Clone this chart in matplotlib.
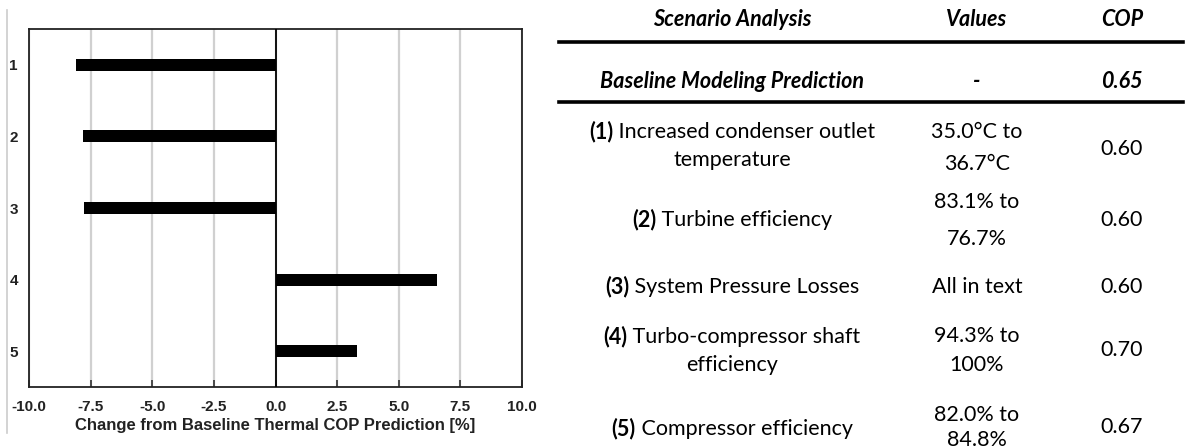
import matplotlib
matplotlib.use("Agg")
import matplotlib.pyplot as plt
from matplotlib.lines import Line2D

# sensitivity results: change of thermal COP against the baseline model
scenario_ids = [1, 2, 3, 4, 5]
cop_change_pct = [-8.1, -7.8, -7.75, 6.55, 3.3]

# summary table next to the chart
header = ["Scenario Analysis", "Values", "COP"]
baseline_label = "Baseline Modeling Prediction"
baseline_value = "-"
baseline_cop = "0.65"
scenario_tags = ["(1)", "(2)", "(3)", "(4)", "(5)"]
scenario_names = [
    ["Increased condenser outlet", "temperature"],
    ["Turbine efficiency"],
    ["System Pressure Losses"],
    ["Turbo-compressor shaft", "efficiency"],
    ["Compressor efficiency"],
]
scenario_values = [
    ["35.0°C to", "36.7°C"],
    ["83.1% to", "76.7%"],
    ["All in text"],
    ["94.3% to", "100%"],
    ["82.0% to", "84.8%"],
]
scenario_cops = ["0.60", "0.60", "0.60", "0.70", "0.67"]

W, H = 1186, 448
fig = plt.figure(figsize=(W / 100, H / 100), dpi=100)
fig.patch.set_facecolor("white")

chart_font = "Liberation Sans"
table_font = "Lato"


def px(x, y):
    """pixel position (from top-left) -> figure fraction"""
    return x / W, 1 - y / H


# ---- bar chart ----
left, top, right, bottom = 29, 29, 522, 387
ax = fig.add_axes([left / W, 1 - bottom / H, (right - left) / W, (bottom - top) / H])
ax.barh(scenario_ids, cop_change_pct, height=0.17, color="black", zorder=3)
ax.axvline(0, color="black", lw=1.3, zorder=4)
ax.set_xlim(-10, 10)
ax.set_ylim(5.5, 0.5)
ax.set_xticks([-10, -7.5, -5, -2.5, 0, 2.5, 5, 7.5, 10])
ax.set_xticklabels([f"{v:.1f}" for v in ax.get_xticks()],
                   fontfamily=chart_font, fontweight="bold", fontsize=11, color="#222222")
ax.set_yticks(scenario_ids)
ax.set_yticklabels([str(i) for i in scenario_ids],
                   fontfamily=chart_font, fontweight="bold", fontsize=11, color="#222222")
ax.tick_params(axis="x", direction="in", length=5, width=1.2, color="#333333", pad=9)
ax.tick_params(axis="y", length=0, pad=8)
ax.xaxis.grid(True, color="#d0d0d0", lw=1.6, zorder=0)
ax.set_axisbelow(True)
for s in ax.spines.values():
    s.set_linewidth(1.3)
    s.set_color("#222222")
ax.set_xlabel("Change from Baseline Thermal COP Prediction [%]",
              fontfamily=chart_font, fontweight="bold", fontsize=12,
              color="#222222", labelpad=3)

# thin frame line on the left edge
fig.add_artist(Line2D([7 / W, 7 / W], [1 - 433 / H, 1 - 10 / H],
                      color="#cccccc", lw=1.2, transform=fig.transFigure))

# ---- table ----
col_x = [732, 977, 1122]
fs = 15.5
renderer = fig.canvas.get_renderer()


def put(x, y, s, **kw):
    fx, fy = px(x, y)
    return fig.text(fx, fy, s, ha="center", va="center_baseline",
                    fontfamily=table_font, fontsize=fs, color="black", **kw)


def put_mixed(x, y, bold_part, rest):
    fx, fy = px(x, y)
    t1 = fig.text(0, fy, bold_part, ha="left", va="center_baseline",
                  fontfamily=table_font, fontsize=fs, fontweight="bold")
    t2 = fig.text(0, fy, " " + rest, ha="left", va="center_baseline",
                  fontfamily=table_font, fontsize=fs)
    w1 = t1.get_window_extent(renderer).width
    w2 = t2.get_window_extent(renderer).width
    x0 = x - (w1 + w2) / 2
    t1.set_x(x0 / W)
    t2.set_x((x0 + w1) / W)


hdr = dict(fontweight="bold", fontstyle="italic")
for cx, h in zip(col_x, header):
    put(cx, 17, h, **hdr)
put(col_x[0], 79, baseline_label, **hdr)
put(col_x[1], 79, baseline_value, **hdr)
put(col_x[2], 79, baseline_cop, **hdr)

for ly in (41.7, 102.3):
    fig.add_artist(Line2D([559 / W, 1183 / W], [1 - ly / H] * 2,
                          color="black", lw=2.6, transform=fig.transFigure))

# row text positions (first line, second line, centre)
name_y = [[130, 158], [218], [285], [335, 363], [427]]
value_y = [[130, 162], [200, 237], [285], [334, 363], [413, 438]]
cop_y = [147, 218, 285, 348, 425]

for i in range(len(scenario_tags)):
    names = scenario_names[i]
    put_mixed(col_x[0], name_y[i][0], scenario_tags[i], names[0])
    for line, y in zip(names[1:], name_y[i][1:]):
        put(col_x[0], y, line)
    for line, y in zip(scenario_values[i], value_y[i]):
        put(col_x[1], y, line)
    put(col_x[2], cop_y[i], scenario_cops[i])

fig.savefig("out.png", dpi=100, facecolor="white")
